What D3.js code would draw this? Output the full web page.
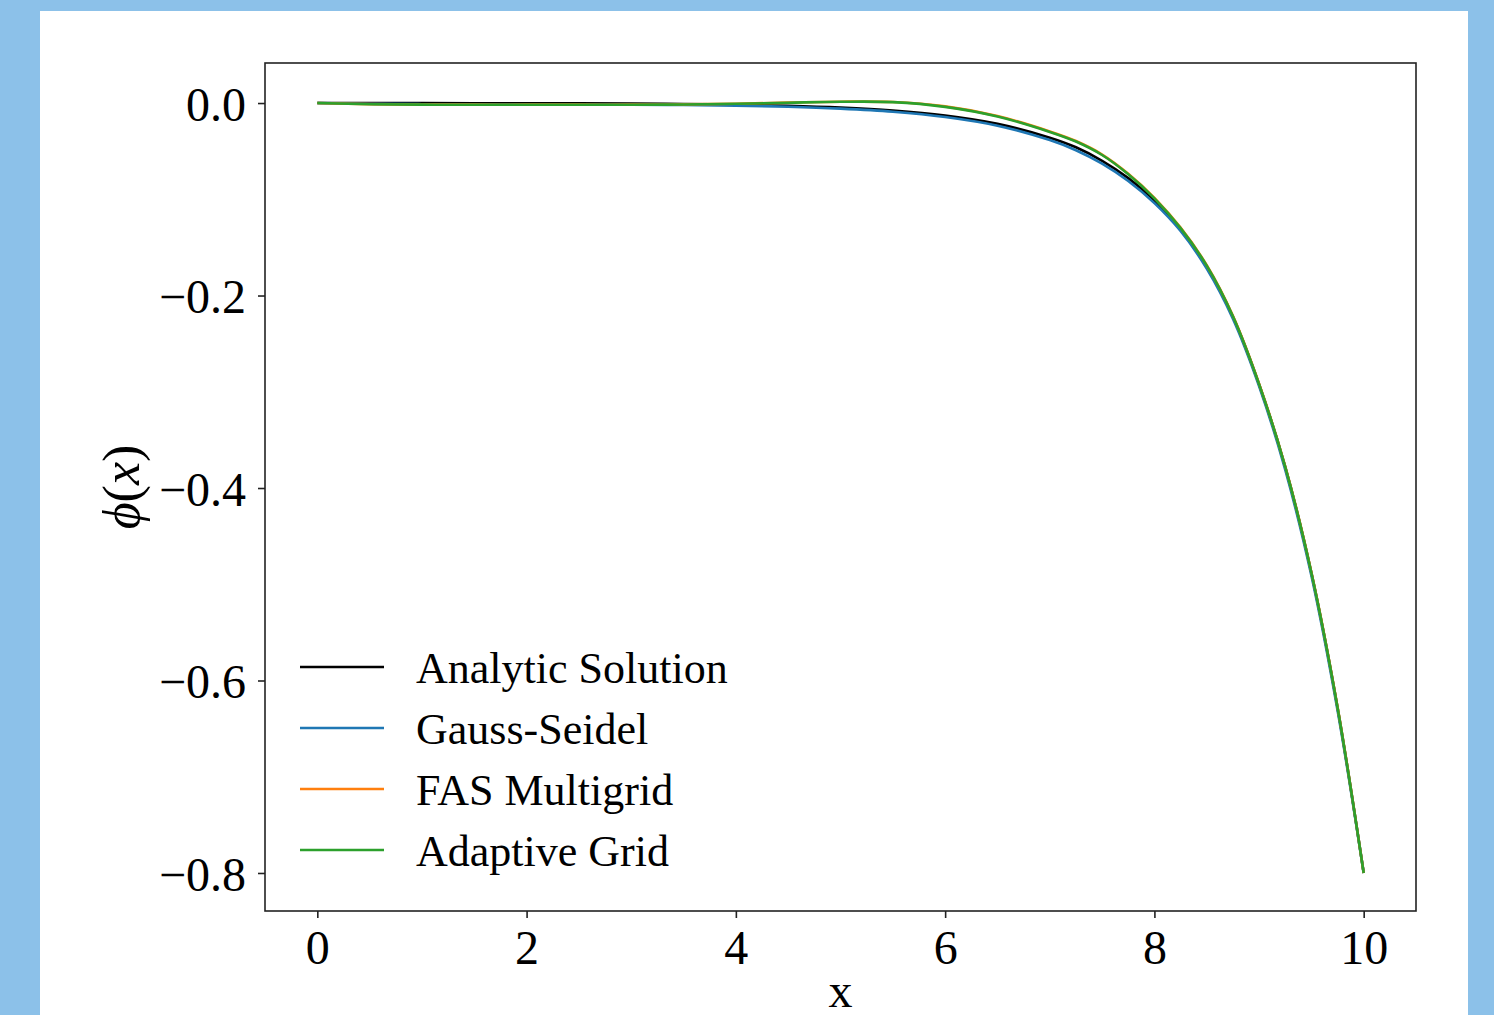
<!DOCTYPE html>
<html>
<head>
<meta charset="utf-8">
<script src="https://cdn.jsdelivr.net/npm/d3@7"></script>
<style>
  html, body { margin: 0; padding: 0; background: #8cc1e9; overflow: hidden; }
  svg { display: block; }
  text { font-family: "Liberation Serif", "DejaVu Serif", serif; fill: #000; }
</style>
</head>
<body>
<svg id="chart" width="1494" height="1015"></svg>
<script>
// Sample positions along x
const xs = [0, 0.5, 1, 1.5, 2, 2.5, 3, 3.5, 4, 4.5, 5, 5.5, 6, 6.5, 7, 7.25, 7.5, 7.75, 8, 8.25, 8.5, 8.75, 9, 9.25, 9.5, 9.75, 10];

// phi(x) for each method
const analytic = [0, 0, -0.0001, -0.0002, -0.0002, -0.0003, -0.0006, -0.0010, -0.0017, -0.0028, -0.0047, -0.0078, -0.0130, -0.0216, -0.0360, -0.046, -0.060, -0.078, -0.101, -0.131, -0.170, -0.222, -0.292, -0.378, -0.488, -0.628, -0.800];
const gaussSeidel = [0, -0.0008, -0.0012, -0.0014, -0.0015, -0.0016, -0.0018, -0.0021, -0.0027, -0.0038, -0.0058, -0.0090, -0.0145, -0.0235, -0.0385, -0.049, -0.063, -0.081, -0.104, -0.133, -0.172, -0.224, -0.294, -0.381, -0.491, -0.631, -0.800];
const fasMultigrid = [0, -0.0011, -0.0016, -0.0017, -0.0017, -0.0017, -0.0017, -0.0014, -0.0007, 0.0004, 0.0014, 0.0010, -0.0035, -0.0135, -0.0295, -0.0395, -0.0535, -0.0735, -0.0985, -0.1295, -0.1685, -0.2210, -0.2915, -0.3775, -0.4875, -0.6275, -0.800];
const adaptiveGrid = [0, -0.0012, -0.0017, -0.0018, -0.0018, -0.0018, -0.0018, -0.0015, -0.0008, 0.0003, 0.0013, 0.0009, -0.0040, -0.0140, -0.0300, -0.0400, -0.0540, -0.0740, -0.0990, -0.1300, -0.1690, -0.2215, -0.2920, -0.3780, -0.4880, -0.6280, -0.800];

const seriesNames = ["Analytic Solution", "Gauss-Seidel", "FAS Multigrid", "Adaptive Grid"];
const seriesValues = [analytic, gaussSeidel, fasMultigrid, adaptiveGrid];
const seriesColors = ["#000000", "#1f77b4", "#ff7f0e", "#2ca02c"];

const xTicks = [0, 2, 4, 6, 8, 10];
const yTicks = [0.0, -0.2, -0.4, -0.6, -0.8];

const svg = d3.select("#chart");

// white figure panel
svg.append("rect")
  .attr("x", 40).attr("y", 11)
  .attr("width", 1428).attr("height", 1010)
  .attr("fill", "#ffffff");

const box = { left: 265, right: 1416, top: 63, bottom: 911 };

const x = d3.scaleLinear().domain([-0.5, 10.5]).range([box.left, box.right]);
const y = d3.scaleLinear().domain([-0.8395, 0.0416]).range([box.bottom, box.top]);

const fmtY = d => (d < 0 ? "\u2212" : "") + Math.abs(d).toFixed(1);

// x axis
const gx = svg.append("g")
  .attr("transform", `translate(0,${box.bottom})`)
  .call(d3.axisBottom(x).tickValues(xTicks).tickFormat(d3.format("d")).tickSizeOuter(0).tickSize(7).tickPadding(10));
gx.select(".domain").remove();
gx.selectAll(".tick line").attr("stroke", "#222").attr("stroke-width", 1.6);
gx.selectAll(".tick text").attr("font-size", 48).attr("font-family", "Liberation Serif").attr("dy", "0.74em");

// y axis
const gy = svg.append("g")
  .attr("transform", `translate(${box.left},0)`)
  .call(d3.axisLeft(y).tickValues(yTicks).tickFormat(fmtY).tickSizeOuter(0).tickSize(7).tickPadding(12));
gy.select(".domain").remove();
gy.selectAll(".tick line").attr("stroke", "#222").attr("stroke-width", 1.6);
gy.selectAll(".tick text").attr("font-size", 48).attr("font-family", "Liberation Serif").attr("dy", "0.36em");

// curves
const plot = svg.append("g");
const line = d3.line()
  .x((d, i) => x(xs[i]))
  .y(d => y(d))
  .curve(d3.curveCatmullRom.alpha(0.5));

seriesValues.forEach((vals, k) => {
  plot.append("path")
    .datum(vals)
    .attr("d", line)
    .attr("fill", "none")
    .attr("stroke", seriesColors[k])
    .attr("stroke-width", 2.6)
    .attr("stroke-linejoin", "round");
});

// axes frame
svg.append("rect")
  .attr("x", box.left).attr("y", box.top)
  .attr("width", box.right - box.left).attr("height", box.bottom - box.top)
  .attr("fill", "none").attr("stroke", "#222").attr("stroke-width", 1.6);

// axis titles
svg.append("text")
  .attr("x", (box.left + box.right) / 2).attr("y", 1007)
  .attr("text-anchor", "middle").attr("font-size", 48)
  .text("x");

const yl = svg.append("text")
  .attr("transform", `translate(139,${(box.top + box.bottom) / 2}) rotate(-90)`)
  .attr("text-anchor", "middle").attr("font-size", 52);
yl.append("tspan").attr("font-style", "italic").text("\u03d5");
yl.append("tspan").text("(");
yl.append("tspan").attr("font-style", "italic").text("x");
yl.append("tspan").text(")");

// legend
const legend = svg.append("g");
seriesNames.forEach((name, k) => {
  const ly = 667 + k * 61;
  legend.append("line")
    .attr("x1", 300).attr("x2", 384).attr("y1", ly).attr("y2", ly)
    .attr("stroke", seriesColors[k]).attr("stroke-width", 2.6);
  legend.append("text")
    .attr("x", 416).attr("y", ly + 16)
    .attr("font-size", 44)
    .text(name);
});
</script>
</body>
</html>
